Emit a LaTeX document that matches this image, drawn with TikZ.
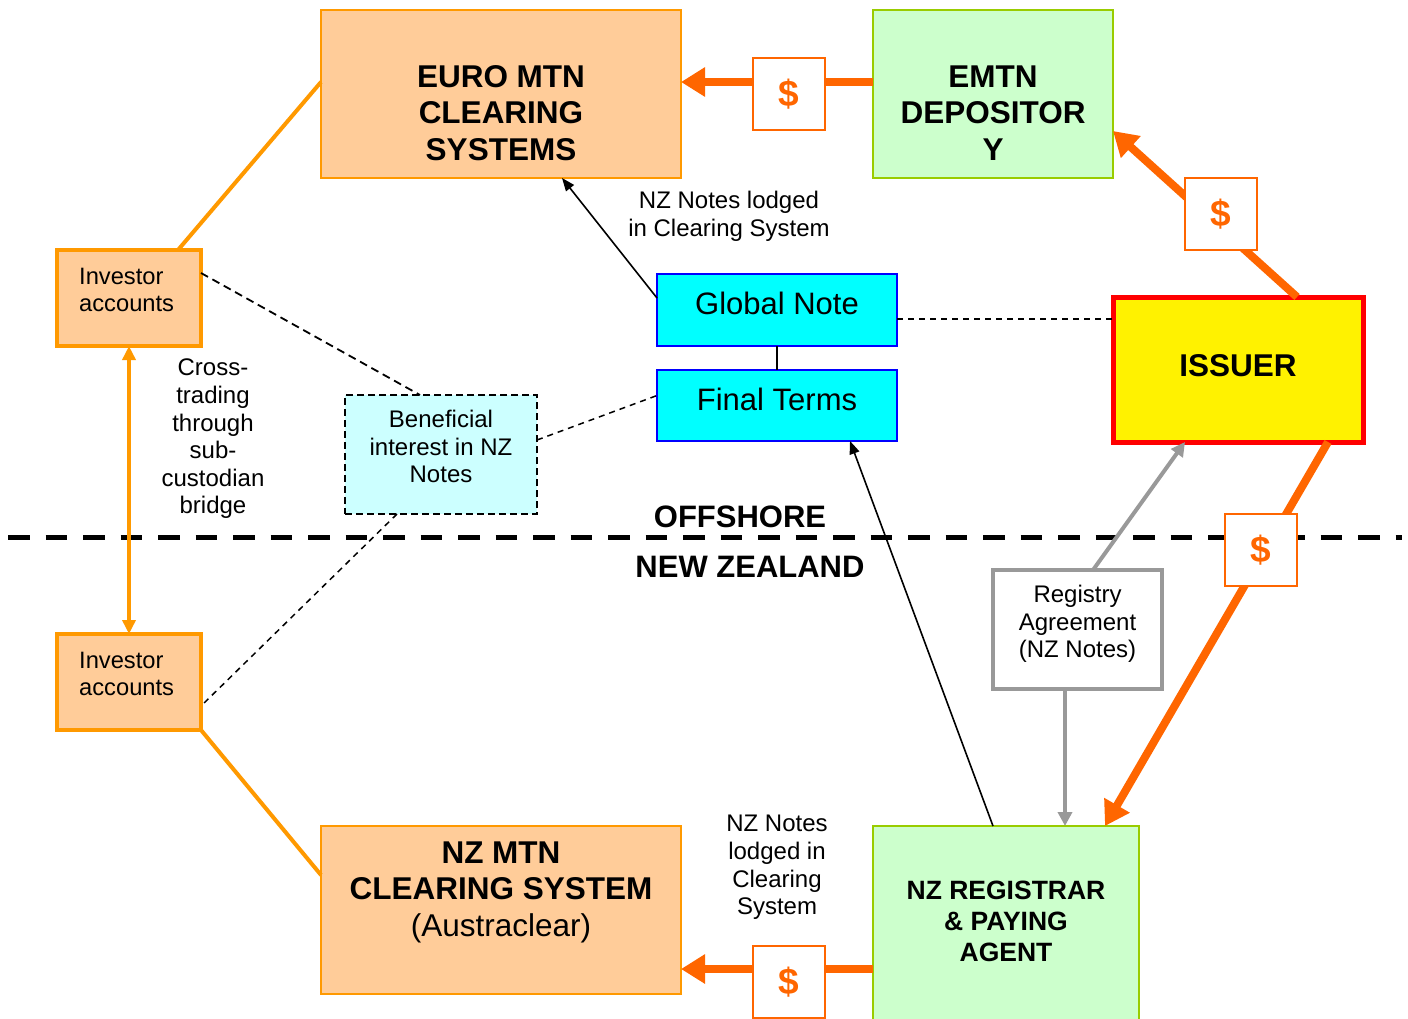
\documentclass[tikz,border=0pt]{standalone}
\usepackage{fontspec}
\setmainfont{Liberation Sans}
\usetikzlibrary{arrows.meta,calc}

\definecolor{peach}{HTML}{FFCC99}
\definecolor{amber}{HTML}{FF9900}
\definecolor{money}{HTML}{FF6600}
\definecolor{mint}{HTML}{CCFFCC}
\definecolor{lime}{HTML}{99CC00}
\definecolor{aqua}{HTML}{00FFFF}
\definecolor{paleaqua}{HTML}{CCFFFF}
\definecolor{midgray}{HTML}{999999}

\tikzset{
  box/.style={rectangle, inner sep=0pt, outer sep=0pt},
  clearbox/.style={box, fill=peach, draw=amber, line width=2.5pt},
  investbox/.style={box, fill=peach, draw=amber, line width=4pt,
    minimum width=144pt, minimum height=96pt},
  investtext/.style={align=left, inner sep=0pt, anchor=west,
    font=\fontsize{23.7}{27.8}\selectfont},
  agentbox/.style={box, fill=mint, draw=lime, line width=2pt},
  notebox/.style={box, fill=aqua, draw=blue, line width=2pt,
    minimum width=240pt},
  dollarbox/.style={box, fill=white, draw=money, line width=2.5pt,
    minimum width=72pt, minimum height=72pt, text=money,
    font=\fontsize{37}{40}\selectfont\bfseries},
  bigtitle/.style={align=center, font=\fontsize{31.5}{36.5}\selectfont\bfseries},
  midtitle/.style={align=center, font=\fontsize{26.5}{31}\selectfont\bfseries},
  plain/.style={align=center, font=\fontsize{24}{27.6}\selectfont},
  notetext/.style={align=center, font=\fontsize{31}{36}\selectfont},
  moneyflow/.style={draw=money, line width=8pt,
    -{Triangle[length=24pt,width=28pt]}},
  link/.style={draw=amber, line width=4pt},
  thinarrow/.style={draw=black, line width=1.6pt,
    -{Triangle[length=13pt,width=10pt]}},
  grayarrow/.style={draw=midgray, line width=4pt,
    -{Triangle[length=14pt,width=14pt]}},
  thindash/.style={draw=black, line width=1.8pt, dash pattern=on 8pt off 5pt},
  finedash/.style={draw=black, line width=1.5pt, dash pattern=on 6pt off 5pt},
}

\begin{document}
\begin{tikzpicture}[x=1pt, y=-1pt]
\useasboundingbox (0,0) rectangle (1408,1018);

% ---- main boxes ----
\node[clearbox, minimum width=360pt, minimum height=168pt] (euro) at (501,94) {};
\node[bigtitle] (euro-t) at (501,113) {EURO MTN\\CLEARING\\SYSTEMS};

\node[agentbox, minimum width=240pt, minimum height=168pt] (emtn) at (993,94) {};
\node[bigtitle] (emtn-t) at (993,113) {EMTN\\DEPOSITOR\\Y};

\node[investbox] (inv1) at (129,298) {};
\node[investtext] (inv1-t) at (79,290) {Investor\\accounts};

\node[investbox] (inv2) at (129,682) {};
\node[investtext] (inv2-t) at (79,674) {Investor\\accounts};

\node[box, fill=paleaqua, draw=black, line width=2pt, dash pattern=on 7pt off 4pt,
      minimum width=192pt, minimum height=119pt] (benef) at (441,454.5) {};
\node[plain] (benef-t) at (441,446.5) {Beneficial\\interest in NZ\\Notes};

\node[notebox, minimum height=72pt] (global) at (777,310) {};
\node[notetext] (global-t) at (777,303) {Global Note};

\node[notebox, minimum height=71pt] (final) at (777,405.5) {};
\node[notetext] (final-t) at (777,399) {Final Terms};

\node[box, fill=yellow, draw=red, line width=5pt,
      minimum width=250pt, minimum height=145pt] (issuer) at (1238,369.5) {};
\node[bigtitle] (issuer-t) at (1238,366) {ISSUER};

\node[box, fill=white, draw=midgray, line width=4pt,
      minimum width=169pt, minimum height=119pt] (registry) at (1077.5,629.5) {};
\node[plain] (registry-t) at (1077.5,624) {Registry\\Agreement\\(NZ Notes)};

\node[agentbox, minimum width=266pt, minimum height=200pt] (nzreg) at (1006,926) {};
\node[midtitle] (nzreg-t) at (1006,921) {NZ REGISTRAR\\\& PAYING\\AGENT};

\node[clearbox, minimum width=360pt, minimum height=168pt] (nzmtn) at (501,910) {};
\node[align=center, font=\fontsize{31.5}{36.5}\selectfont] (nzmtn-t) at (501,892)
  {\textbf{NZ MTN}\\\textbf{CLEARING SYSTEM}\\(Austraclear)};

% ---- free labels ----
\node[plain] (cross) at (213,439) {Cross-\\trading\\through\\sub-\\custodian\\bridge};
\node[plain] (lodged-top) at (729,216) {NZ Notes lodged\\in Clearing System};
\node[plain] (lodged-bot) at (777,867.5) {NZ Notes\\lodged in\\Clearing\\System};
\node[font=\fontsize{31}{36}\selectfont\bfseries] (offshore) at (740,517) {OFFSHORE};
\node[font=\fontsize{31}{36}\selectfont\bfseries] (nz) at (750,567) {NEW ZEALAND};

% ---- offshore / New Zealand divide ----
\coordinate (div-l) at (8,537);
\coordinate (div-r) at (1402,537);
\draw[line width=5pt, dash pattern=on 21.5pt off 16pt] (div-l) -- (div-r);

% ---- orange links to investor accounts ----
\draw[link] ([yshift=12pt]euro.west) -- ([xshift=49pt]inv1.north);
\draw[link] (inv2.south east) -- ([yshift=35pt]nzmtn.west);
\draw[link, {Triangle[length=14pt,width=13pt]}-{Triangle[length=14pt,width=13pt]}]
  (inv1.south) -- (inv2.north);

% ---- dashed relations ----
\draw[thindash] ([yshift=25pt]inv1.east) -- ([xshift=-21pt]benef.north);
\draw[finedash] ([yshift=14.5pt]benef.east) -- ([yshift=10pt]final.west);
\draw[finedash] ([xshift=-44pt]benef.south) -- ([yshift=-24pt]inv2.east);
\draw[finedash] ([yshift=-9pt]global.east) -- ([yshift=-9pt]global.east -| issuer.west);

% ---- note lodging ----
\draw[line width=1.6pt] (global.south) -- (final.north);
\draw[thinarrow] ([yshift=12pt]global.west) -- ([xshift=61pt]euro.south);
\draw[thinarrow] ([xshift=-13pt]nzreg.north) -- ([xshift=73pt]final.south);

% ---- registry agreement ----
\draw[grayarrow] ([xshift=15.5pt]registry.north) -- ([xshift=-53pt]issuer.south);
\draw[grayarrow] ([xshift=-12.5pt]registry.south) -- ([xshift=-12.5pt]registry.south |- nzreg.north);

% ---- money flows ----
\draw[moneyflow] ([yshift=12pt]emtn.west) -- ([yshift=12pt]emtn.west -| euro.east);
\draw[moneyflow] ([xshift=59pt]issuer.north) -- ([yshift=-37pt]emtn.east);
\draw[moneyflow] ([xshift=90pt]issuer.south) -- ([xshift=99pt]nzreg.north);
\draw[moneyflow] ([yshift=-43pt]nzreg.west) -- ([yshift=-43pt]nzreg.west -| nzmtn.east);

\node[dollarbox] (d1) at (789,94) {\$};
\node[dollarbox] (d2) at (1221,214) {\$};
\node[dollarbox] (d3) at (1261,550) {\$};
\node[dollarbox] (d4) at (789,982) {\$};
\end{tikzpicture}
\end{document}
